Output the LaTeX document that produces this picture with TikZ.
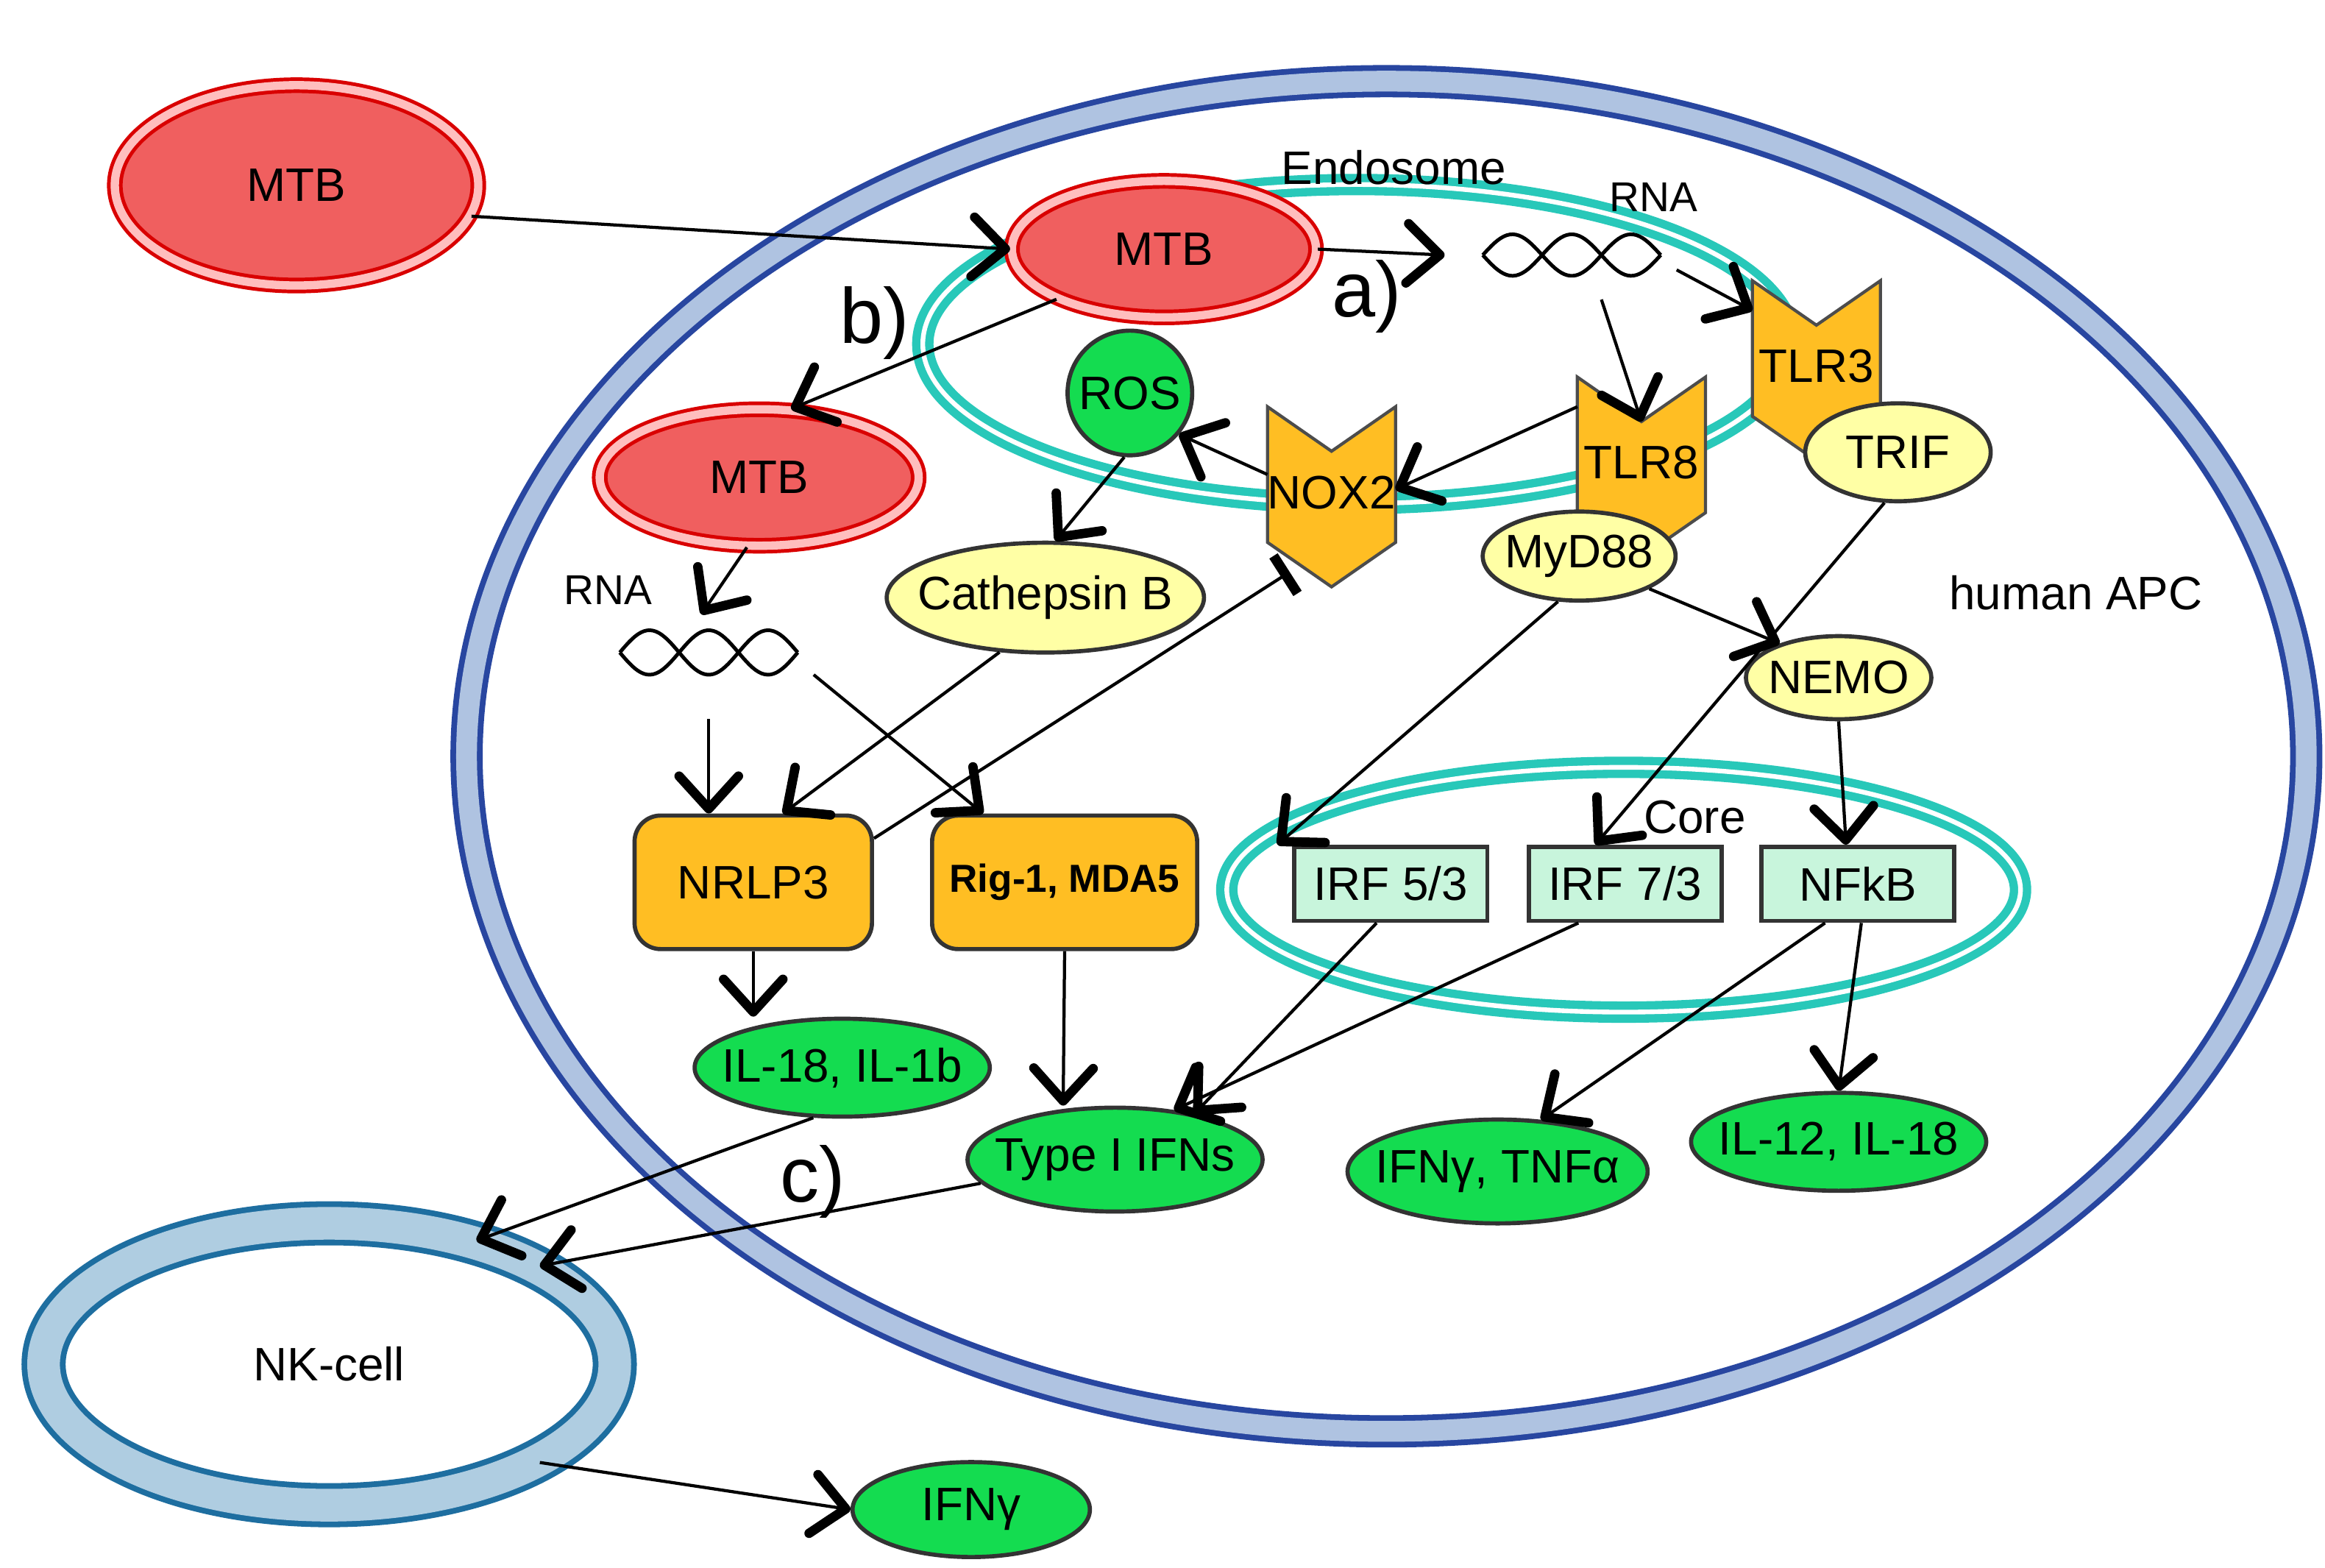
\documentclass[tikz,border=0pt]{standalone}
\usepackage{fontspec}
\setmainfont{Liberation Sans}
\usetikzlibrary{arrows.meta,shapes.geometric,calc}
\definecolor{apcdark}{RGB}{40,70,160}
\definecolor{apclight}{RGB}{175,195,225}
\definecolor{nkdark}{RGB}{30,110,160}
\definecolor{nklight}{RGB}{175,205,225}
\definecolor{endo}{RGB}{40,200,185}
\definecolor{mtbred}{RGB}{240,95,95}
\definecolor{mtbpink}{RGB}{255,190,190}
\definecolor{grn}{RGB}{20,220,80}
\definecolor{yel}{RGB}{255,255,165}
\definecolor{org}{RGB}{255,190,35}
\definecolor{irf}{RGB}{200,245,220}
\begin{document}
\begin{tikzpicture}[x=0.01cm,y=-0.01cm,font=\fontsize{9}{11}\selectfont,
 arr/.style={line width=0.6pt,-{Straight Barb[length=2.2mm,width=4mm,line width=1.8pt,round]}},
 barr/.style={line width=0.6pt,-{Bar[width=3mm,line width=1.9pt]}},
 mtb/.style={ellipse,draw=red!85!black,double=mtbpink,double distance=1.6pt,line width=0.7pt,fill=mtbred,inner sep=-3pt},
 yell/.style={ellipse,draw=black!80,fill=yel,line width=0.8pt,inner sep=-3pt},
 gell/.style={ellipse,draw=black!80,fill=grn,line width=0.8pt,inner sep=-3pt},
 rbox/.style={rectangle,rounded corners=5pt,draw=black!80,fill=org,line width=0.8pt,minimum width=1.6cm,minimum height=0.9cm},
 ibox/.style={rectangle,draw=black!80,fill=irf,line width=0.8pt,minimum width=1.3cm,minimum height=0.5cm},
 chev/.style={rectangle,draw=none,minimum width=0.85cm,minimum height=0.9cm,inner sep=0pt},
 chevdraw/.style={draw=black!70,fill=org,line width=0.6pt}]
\useasboundingbox (0,0) rectangle (1568,1057);
% APC
\node[ellipse,minimum width=12.4cm,minimum height=9.1cm,draw=apcdark,double=apclight,double distance=1.4mm,line width=1.1pt] (apc) at (935,510) {};
% endosome and core
\node[ellipse,minimum width=5.85cm,minimum height=2.15cm,draw=endo,double=white,double distance=0.9pt,line width=1.6pt] (endo) at (915,232) {};
\node[ellipse,minimum width=5.35cm,minimum height=1.65cm,draw=endo,double=white,double distance=0.9pt,line width=1.6pt] (core) at (1095,600) {};
% NK cell
\node[ellipse,minimum width=3.85cm,minimum height=1.9cm,draw=nkdark,double=nklight,double distance=2.2mm,line width=1.1pt,fill=white] (nk) at (222,920) {NK-cell};
% labels
\node (lendo) at (940,113) {Endosome};
\node (lcore) at (1143,551) {Core};
\node (lapc) at (1400,400) {human APC};
\node[font=\fontsize{15}{16}\selectfont] (la) at (922,200) {a)};
\node[font=\fontsize{15}{16}\selectfont] (lb) at (590,218) {b)};
\node[font=\fontsize{15}{16}\selectfont] (lc) at (548,797) {c)};
% MTB
\node[mtb,minimum width=2.45cm,minimum height=1.35cm] (m1) at (200,125) {MTB};
\node[mtb,minimum width=2.05cm,minimum height=0.92cm] (m2) at (785,168) {MTB};
\node[mtb,minimum width=2.15cm,minimum height=0.92cm] (m3) at (512,322) {MTB};
% RNA helices
\node[font=\fontsize{8}{9}\selectfont] (rna1l) at (1115,133) {RNA};
\node[minimum width=1.2cm,minimum height=0.3cm,inner sep=0pt] (rna1) at (1060,172) {};
\draw[line width=0.7pt,domain=0:540,samples=60] plot ({1000+\x/4.5},{172+14*sin(\x)});
\draw[line width=0.7pt,domain=0:540,samples=60] plot ({1000+\x/4.5},{172-14*sin(\x)});
\node[font=\fontsize{8}{9}\selectfont] (rna2l) at (410,398) {RNA};
\node[minimum width=1.2cm,minimum height=0.3cm,inner sep=0pt] (rna2) at (478,440) {};
\draw[line width=0.7pt,domain=0:540,samples=60] plot ({418+\x/4.5},{440+15*sin(\x)});
\draw[line width=0.7pt,domain=0:540,samples=60] plot ({418+\x/4.5},{440-15*sin(\x)});
% chevrons
\foreach \n/\px/\py/\t in {nox/898/320/NOX2, tlr8/1107/300/TLR8, tlr3/1225/235/TLR3}{
 \node[chev] (\n) at (\px,\py) {};
 \filldraw[chevdraw] (\n.north west) -- ([yshift=-0.3cm]\n.north) -- (\n.north east) -- (\n.south east) -- ([yshift=-0.3cm]\n.south) -- (\n.south west) -- cycle;
 \node (\n t) at ([yshift=-0.12cm]\n.center) {\t};
}
% yellow
\node[yell,minimum width=1.25cm,minimum height=0.66cm] (trif) at (1280,305) {TRIF};
\node[yell,minimum width=1.3cm,minimum height=0.6cm] (myd) at (1065,375) {MyD88};
\node[yell,minimum width=2cm,minimum height=0.74cm] (cath) at (705,403) {Cathepsin B};
\node[yell,minimum width=1.25cm,minimum height=0.56cm] (nemo) at (1240,457) {NEMO};
\node[gell,circle,inner sep=0pt,minimum size=0.84cm] (ros) at (762,265) {ROS};
% boxes
\node[rbox] (nrlp) at (508,595) {NRLP3};
\node[rbox,minimum width=1.7cm,font=\fontsize{7.5}{9}\selectfont\bfseries] (rig) at (718,595) {Rig-1, MDA5};
\node[ibox] (irf5) at (938,596) {IRF 5/3};
\node[ibox] (irf7) at (1096,596) {IRF 7/3};
\node[ibox] (nfkb) at (1253,596) {NFkB};
% green
\node[gell,minimum width=1.94cm,minimum height=0.66cm] (il18) at (568,720) {IL-18, IL-1b};
\node[gell,minimum width=1.94cm,minimum height=0.7cm] (ifn) at (752,782) {Type I IFNs};
\node[gell,minimum width=1.94cm,minimum height=0.7cm] (tnf) at (1010,790) {IFNγ, TNFα};
\node[gell,minimum width=1.94cm,minimum height=0.66cm] (il12) at (1240,770) {IL-12, IL-18};
\node[gell,minimum width=1.6cm,minimum height=0.64cm] (ifng) at (655,1018) {IFNγ};
% arrows
\draw[arr] (m1.-10) -- (m2.west);
\draw[arr] (m2.east) -- ([xshift=-0.25cm]rna1.west);
\draw[arr] ([xshift=0.1cm,yshift=-0.1cm]rna1.east) -- ([yshift=-0.2cm]tlr3.north west);
\draw[arr] ([xshift=0.2cm,yshift=-0.3cm]rna1.center) -- ([yshift=-0.3cm]tlr8.north);
\draw[arr] ([yshift=-0.2cm]tlr8.north west) -- ([yshift=-0.1cm]nox.east);
\draw[arr] (nox.west) -- (ros.-40);
\draw[arr] (ros.-95) -- (cath.80);
\draw[arr] (m2.-155) -- (m3.65);
\draw[arr] (m3.-100) -- ([xshift=-0.05cm,yshift=0.1cm]rna2.north);
\draw[arr] ([yshift=-0.45cm]rna2.center) -- (nrlp.north -| 478,0);
\draw[arr] (cath.-130) -- ([xshift=0.2cm]nrlp.north);
\draw[arr] ([xshift=0.1cm,yshift=-0.15cm]rna2.east) -- ([xshift=-0.55cm]rig.north);
\draw[barr] (nrlp.20) -- ([xshift=0.15cm,yshift=-0.2cm]nox.south west);
\draw[arr] (nrlp.south) -- (il18.north -| nrlp.south);
\draw[arr] (rig.south) -- (ifn.north -| 717,0);
\draw[arr] (myd.-25) -- (nemo.150);
\draw[arr] (myd.-115) -- ([xshift=-0.1cm]irf5.north west);
\draw[arr] (trif.-105) -- ([xshift=-0.2cm]irf7.north);
\draw[arr] (nemo.south) -- (nfkb.north -| 1245,0);
\draw[arr] (irf5.-110) -- (ifn.30);
\draw[arr] (irf7.-140) -- (ifn.40);
\draw[arr] (nfkb.-130) -- (tnf.50);
\draw[arr] (nfkb.-85) -- (il12.north);
\draw[arr] (il18.-120) -- (nk.40);
\draw[arr] (ifn.190) -- (nk.25);
\draw[arr] (nk.-25) -- (ifng.west);
\end{tikzpicture}
\end{document}
